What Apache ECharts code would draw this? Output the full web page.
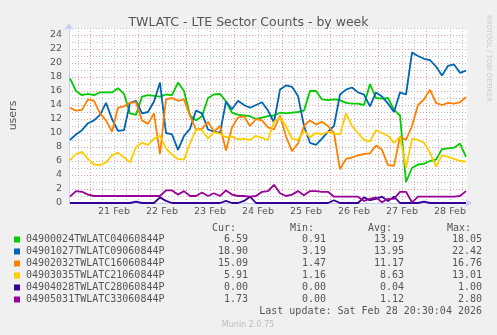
<!DOCTYPE html>
<html>
<head>
<meta charset="utf-8">
<script src="https://cdn.jsdelivr.net/npm/echarts@6/dist/echarts.min.js"></script>
<style>
html,body{margin:0;padding:0;background:#F0F0F0;}
#chart{width:497px;height:335px;}
</style>
</head>
<body>
<div id="chart"></div>
<script>
// Time: hours relative to 21 Feb 00:00; samples every 3 h from 20 Feb 14:00
var startHour = -10;
var stepHours = 3;
var dayLabels = ['21 Feb','22 Feb','23 Feb','24 Feb','25 Feb','26 Feb','27 Feb','28 Feb'];
var seriesNames = ['04900024TWLATC04060844P','04901027TWLATC09060844P','04902032TWLATC16060844P','04903035TWLATC21060844P','04904028TWLATC28060844P','04905031TWLATC33060844P'];
var seriesColors = ['#00CC00','#0066B3','#FF8000','#FFCC00','#330099','#990099'];

var green = [17.8,16.0,15.4,15.6,15.4,15.8,15.8,15.8,16.4,15.6,12.8,12.6,15.2,15.4,15.3,15.2,15.5,15.4,17.2,16.0,12.5,11.8,12.4,15.0,15.5,15.6,14.5,12.9,12.6,12.5,12.4,12.0,12.2,12.4,12.5,12.9,12.8,12.9,13.0,13.2,16.0,16.0,14.8,14.7,14.8,14.7,14.3,14.2,14.2,14.0,17.0,15.0,14.9,15.0,13.3,12.5,3.0,5.0,5.5,5.6,6.0,6.2,7.7,7.8,7.9,8.5,6.6];
var blue = [9.0,9.8,10.4,11.4,11.8,12.6,14.3,12.0,10.3,10.4,14.3,14.6,12.8,13.0,14.5,17.2,10.0,9.8,7.6,9.6,10.6,13.2,12.8,10.5,10.2,10.0,14.5,13.4,14.6,14.0,13.6,14.0,14.4,13.2,11.5,16.2,16.8,16.6,15.3,11.0,8.6,8.3,9.2,10.2,11.0,15.5,16.2,16.5,15.8,15.5,13.8,15.8,15.2,14.2,13.0,15.8,15.5,21.5,21.0,20.6,20.4,19.5,18.2,19.6,19.8,18.6,18.9];
var orange = [13.6,13.2,13.3,14.8,14.6,12.8,11.8,10.2,13.6,13.8,14.3,14.4,11.8,11.3,12.8,7.0,14.8,15.0,14.6,14.8,12.5,10.5,10.6,11.6,10.2,11.0,7.5,10.8,12.2,12.4,11.0,12.0,11.8,10.8,10.5,12.5,9.5,7.4,8.5,11.0,11.8,11.2,11.6,11.0,10.0,4.8,6.3,6.5,6.8,7.0,7.1,8.2,7.6,5.4,5.3,9.5,9.0,11.0,14.0,14.8,16.2,14.3,14.0,14.3,14.2,14.4,15.1];
var yellow = [6.1,7.0,7.3,6.3,5.5,5.4,5.8,6.8,7.2,6.5,5.8,8.0,8.6,8.3,9.2,9.6,7.8,6.9,6.3,6.2,8.5,10.5,10.4,9.2,10.1,9.9,9.4,9.5,9.1,9.2,9.0,9.6,9.3,9.0,11.6,12.2,11.0,9.2,9.0,10.3,9.4,10.0,9.8,10.2,9.9,9.8,12.8,11.0,10.0,9.0,8.8,10.4,10.0,9.6,8.6,9.5,5.0,9.2,9.0,8.6,7.2,5.2,6.8,6.6,6.3,6.0,5.9];
var darkblue = [0,0,0,0,0,0,0,0,0,0,0,0.2,0,0,0,0.8,0.3,0,0,0,0,0,0,0,0,0,0.3,0,0,0.3,0.9,0,0,0,0,0,0,0,0,0,0,0,0,0,0.4,0,0,0,0,0.8,0.4,0.6,0.9,0.3,0.9,0,0,0,0,0.2,0,0,0,0,0,0,0];
var purple = [0.9,1.7,1.6,1.2,1.0,1.0,1.0,1.0,1.0,1.0,1.0,1.0,1.0,1.0,1.0,1.0,1.8,1.8,1.2,1.7,1.0,1.0,1.5,1.0,1.4,1.0,1.8,1.2,1.0,1.0,0.9,1.0,1.6,1.7,2.6,1.4,1.0,1.2,1.7,1.1,1.7,1.7,1.6,1.6,0.9,0.9,0.9,0.9,0.9,0.3,0.6,0.8,0.1,0.6,0.6,1.6,1.6,0.1,0.9,0.9,0.9,0.9,0.9,0.9,0.9,1.0,1.7];

var statCur = ['6.59','18.90','15.09','5.91','0.00','1.73'];
var statMin = ['0.91','3.19','1.47','1.16','0.00','0.00'];
var statAvg = ['13.19','13.95','11.17','8.63','0.04','1.12'];
var statMax = ['18.05','22.42','16.76','13.01','1.00','2.80'];
var yTickLabels = ['0','2','4','6','8','10','12','14','16','18','20','22','24'];

var allValues = [green, blue, orange, yellow, darkblue, purple];

function toPairs(vals){
  return vals.map(function(v,i){ return [startHour + i*stepHours, v]; });
}

var RED = 'rgba(230,120,120,0.75)';
var GRAY = 'rgba(170,170,170,0.75)';
var NONE = 'rgba(0,0,0,0)';
// x ticks every 1.5 h starting at -10.5; index 7 = midnight, 3/11/15 = 6h marks
var xColors = [];
for (var k=0;k<16;k++){
  if (k===7) xColors.push(RED);
  else if (k%4===3) xColors.push(GRAY);
  else xColors.push(NONE);
}

var series = allValues.map(function(vals, idx){
  return {
    name: seriesNames[idx],
    type: 'line',
    data: toPairs(vals),
    showSymbol: false,
    clip: false,
    animation: false,
    lineStyle: {color: seriesColors[idx], width: 1.8},
    itemStyle: {color: seriesColors[idx]},
    z: 3 + idx
  };
});

var mono = '"DejaVu Sans Mono", monospace';
var txtColor = '#555';
var graphics = [];
var rowY0 = 239.5, rowStep = 12;
var colRight = [248, 326, 404, 482];
var headers = ['Cur:','Min:','Avg:','Max:'];
var headerX = [212, 290, 368, 447];
headers.forEach(function(h,i){
  graphics.push({type:'text', x: headerX[i], y: 228,
    style:{text:h, fill:txtColor, font:'10px '+mono, textAlign:'left', textVerticalAlign:'middle'}});
});
seriesNames.forEach(function(n,i){
  var y = rowY0 + rowStep*i;
  graphics.push({type:'rect', x:14, y:y-3, shape:{x:0,y:0,width:6,height:6}, style:{fill:seriesColors[i]}});
  graphics.push({type:'text', x:26, y:y, style:{text:n, fill:txtColor, font:'10px '+mono, textAlign:'left', textVerticalAlign:'middle'}});
  [statCur[i], statMin[i], statAvg[i], statMax[i]].forEach(function(v,j){
    graphics.push({type:'text', x:colRight[j], y:y, style:{text:v, fill:txtColor, font:'10px '+mono, textAlign:'right', textVerticalAlign:'middle'}});
  });
});
graphics.push({type:'text', x:482, y:311.5, style:{text:'Last update: Sat Feb 28 20:30:04 2026', fill:txtColor, font:'10px '+mono, textAlign:'right', textVerticalAlign:'middle'}});
graphics.push({type:'text', x:248, y:325, style:{text:'Munin 2.0.75', fill:'#bbbbbb', font:'8px "DejaVu Sans"', textAlign:'center', textVerticalAlign:'middle'}});
graphics.push({type:'text', x:488.5, y:15, rotation:-Math.PI/2, style:{text:'RRDTOOL / TOBI OETIKER', fill:'#c8c8c8', font:'6.75px "DejaVu Sans"', textAlign:'left', textVerticalAlign:'middle'}});

var chart = echarts.init(document.getElementById('chart'), null, {renderer:'canvas'});
chart.setOption({
  backgroundColor: '#F0F0F0',
  animation: false,
  title: {
    text: 'TWLATC - LTE Sector Counts - by week',
    left: 'center', top: 11,
    textStyle: {fontFamily:'"DejaVu Sans"', fontSize: 12.5, fontWeight:'normal', color:'#555'}
  },
  grid: {left: 67, top: 28, width: 400, height: 175, backgroundColor:'#FFFFFF', show:true, borderWidth:0},
  xAxis: {
    type: 'value', min: -10.5, max: 188.5, interval: 1.5,
    axisLine: {show:true, onZero:false, symbol:['none','arrow'], symbolSize:[7,7], symbolOffset:[0,5], lineStyle:{color:'#C8CFF5', width:1}},
    axisTick: {show:false},
    axisLabel: {
      margin: 4, color:'#555', fontFamily:'"DejaVu Sans"', fontSize: 9.5,
      formatter: function(v){
        var r = ((v - 12) % 24 + 24) % 24;
        if (Math.abs(r) < 1e-6) {
          var d = Math.round((v - 12)/24);
          return dayLabels[d] || '';
        }
        return '';
      }
    },
    splitLine: {show:true, lineStyle:{color: xColors, width:1, type:[1,2]}}
  },
  yAxis: {
    type: 'value', min: 0, max: 25, interval: 1,
    name: 'users', nameLocation: 'middle', nameRotate: 90, nameGap: 50,
    nameTextStyle: {color:'#555', fontFamily:'"DejaVu Sans"', fontSize: 11},
    axisLine: {show:true, onZero:false, symbol:['none','arrow'], symbolSize:[7,7], symbolOffset:[0,5], lineStyle:{color:'#C8CFF5', width:1}},
    axisTick: {show:false},
    axisLabel: {
      margin: 7, color:'#555', fontFamily:'"DejaVu Sans"', fontSize: 9.5,
      formatter: function(v){
        var s = String(Math.round(v));
        return yTickLabels.indexOf(s) >= 0 && Math.abs(v - Math.round(v)) < 1e-6 ? s : '';
      }
    },
    splitLine: {show:true, lineStyle:{color:[RED, GRAY], width:1, type:[1,2]}}
  },
  series: series,
  graphic: graphics
});
</script>
</body>
</html>
